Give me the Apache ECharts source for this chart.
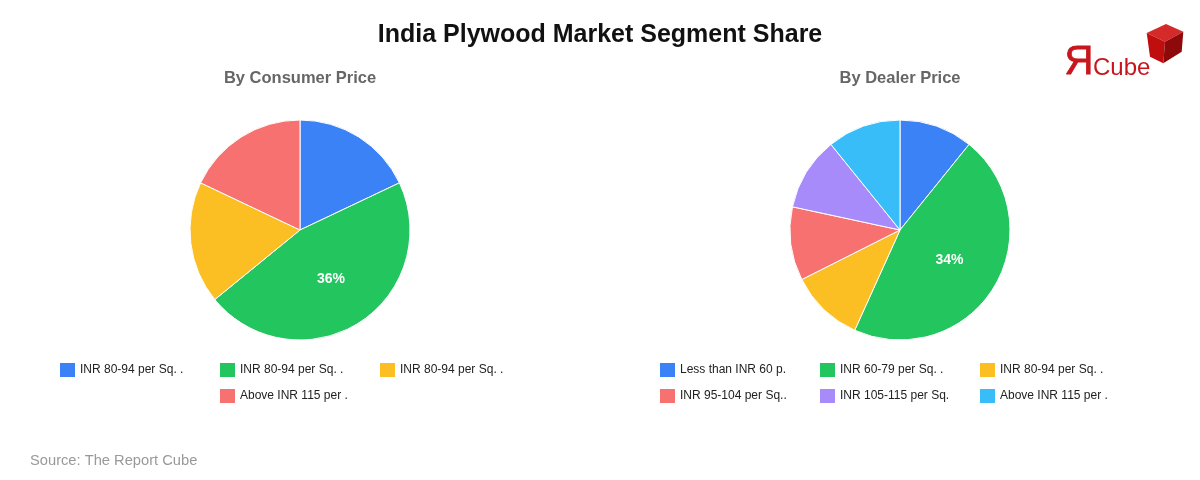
<!DOCTYPE html>
<html>
<head>
<meta charset="utf-8">
<script src="https://cdn.jsdelivr.net/npm/echarts@6/dist/echarts.min.js"></script>
<style>html,body{margin:0;padding:0;background:#fff;}#c{width:1200px;height:480px;}</style>
</head>
<body>
<div id="c"></div>
<script>
const consumerLabels = ['INR 80-94 per Sq. .', 'INR 80-94 per Sq. .', 'INR 80-94 per Sq. .', 'Above INR 115 per .'];
const consumerValues = [14, 36, 14, 14];
const dealerLabels = ['Less than INR 60 p.', 'INR 60-79 per Sq. .', 'INR 80-94 per Sq. .', 'INR 95-104 per Sq..', 'INR 105-115 per Sq.', 'Above INR 115 per .'];
const dealerValues = [8, 34, 8, 8, 8, 8];
const consumerColors = ['#3b82f6', '#22c55e', '#fbbf24', '#f87171'];
const dealerColors = ['#3b82f6', '#22c55e', '#fbbf24', '#f87171', '#a78bfa', '#38bdf8'];

const cNames = consumerLabels.map((l, i) => 'c#' + i);
const dNames = dealerLabels.map((l, i) => 'd#' + i);
const labelMap = {};
cNames.forEach((n, i) => labelMap[n] = consumerLabels[i]);
dNames.forEach((n, i) => labelMap[n] = dealerLabels[i]);

function mkData(names, values, colors) {
  const maxV = Math.max.apply(null, values);
  return names.map((n, i) => ({
    name: n, value: values[i],
    itemStyle: { color: colors[i] },
    label: { show: values[i] === maxV }
  }));
}

const FONT = 'Liberation Sans, Arial, sans-serif';
function legendItem(name, left, top) {
  return {
    orient: 'horizontal', itemWidth: 15, itemHeight: 14, itemGap: 0, padding: 0,
    icon: 'rect', symbolKeepAspect: false, selectedMode: false, left: left, top: top, data: [name],
    itemStyle: { borderWidth: 0 },
    formatter: n => labelMap[n],
    textStyle: { fontSize: 12, color: '#222', fontFamily: FONT }
  };
}
// rows of 3 columns, 160px each; a short last row is centered on the left chart
function legendRows(names, centerX, firstTop, centerShortRow) {
  const out = [];
  for (let r = 0; r * 3 < names.length; r++) {
    const row = names.slice(r * 3, r * 3 + 3);
    const startX = centerShortRow ? centerX - row.length * 80 : centerX - 240;
    row.forEach((n, k) => out.push(legendItem(n, startX + k * 160, firstTop + r * 26)));
  }
  return out;
}

const pieBase = {
  type: 'pie', radius: 110, startAngle: 90, clockwise: true,
  avoidLabelOverlap: false, silent: true,
  itemStyle: { borderColor: '#fff', borderWidth: 1 },
  label: { position: 'inside', formatter: p => p.value + '%', color: '#fff', fontSize: 14, fontWeight: 'bold', fontFamily: FONT },
  labelLine: { show: false }
};

const chart = echarts.init(document.getElementById('c'), null, { renderer: 'canvas' });
chart.setOption({
  backgroundColor: '#fff',
  animation: false,
  title: [
    { text: 'India Plywood Market Segment Share', left: 'center', top: 23, padding: 0, textStyle: { fontSize: 25, fontWeight: 'bold', color: '#111', fontFamily: FONT } },
    { text: 'By Consumer Price', left: 300, textAlign: 'center', top: 70, padding: 0, textStyle: { fontSize: 16.5, fontWeight: 'bold', color: '#666', fontFamily: FONT } },
    { text: 'By Dealer Price', left: 900, textAlign: 'center', top: 70, padding: 0, textStyle: { fontSize: 16.5, fontWeight: 'bold', color: '#666', fontFamily: FONT } },
    { text: 'Source: The Report Cube', left: 30, top: 453, padding: 0, textStyle: { fontSize: 14.7, fontWeight: 'normal', color: '#999', fontFamily: FONT } }
  ],
  legend: legendRows(cNames, 300, 363, true).concat(legendRows(dNames, 900, 363, false)),
  series: [
    Object.assign({}, pieBase, { center: [300, 230], data: mkData(cNames, consumerValues, consumerColors) }),
    Object.assign({}, pieBase, { center: [900, 230], data: mkData(dNames, dealerValues, dealerColors) })
  ],
  graphic: [
    { type: 'text', left: 1064, top: 43, style: { text: 'Я', fontSize: 40, fill: '#c8161d', stroke: '#c8161d', lineWidth: 0.8, fontFamily: FONT } },
    { type: 'text', left: 1093, top: 56, style: { text: 'Cube', fontSize: 24, fill: '#c8161d', fontFamily: FONT } },
    { type: 'polygon', shape: { points: [[1146.7, 33], [1166, 24], [1183.3, 31.7], [1165, 41.7]] }, style: { fill: '#d42a2a' } },
    { type: 'polygon', shape: { points: [[1146.7, 33], [1165, 41.7], [1163.3, 63.3], [1150, 56.7]] }, style: { fill: '#c00d0d' } },
    { type: 'polygon', shape: { points: [[1165, 41.7], [1183.3, 31.7], [1181.7, 51.7], [1163.3, 63.3]] }, style: { fill: '#8e0a0a' } }
  ]
});
</script>
</body>
</html>
